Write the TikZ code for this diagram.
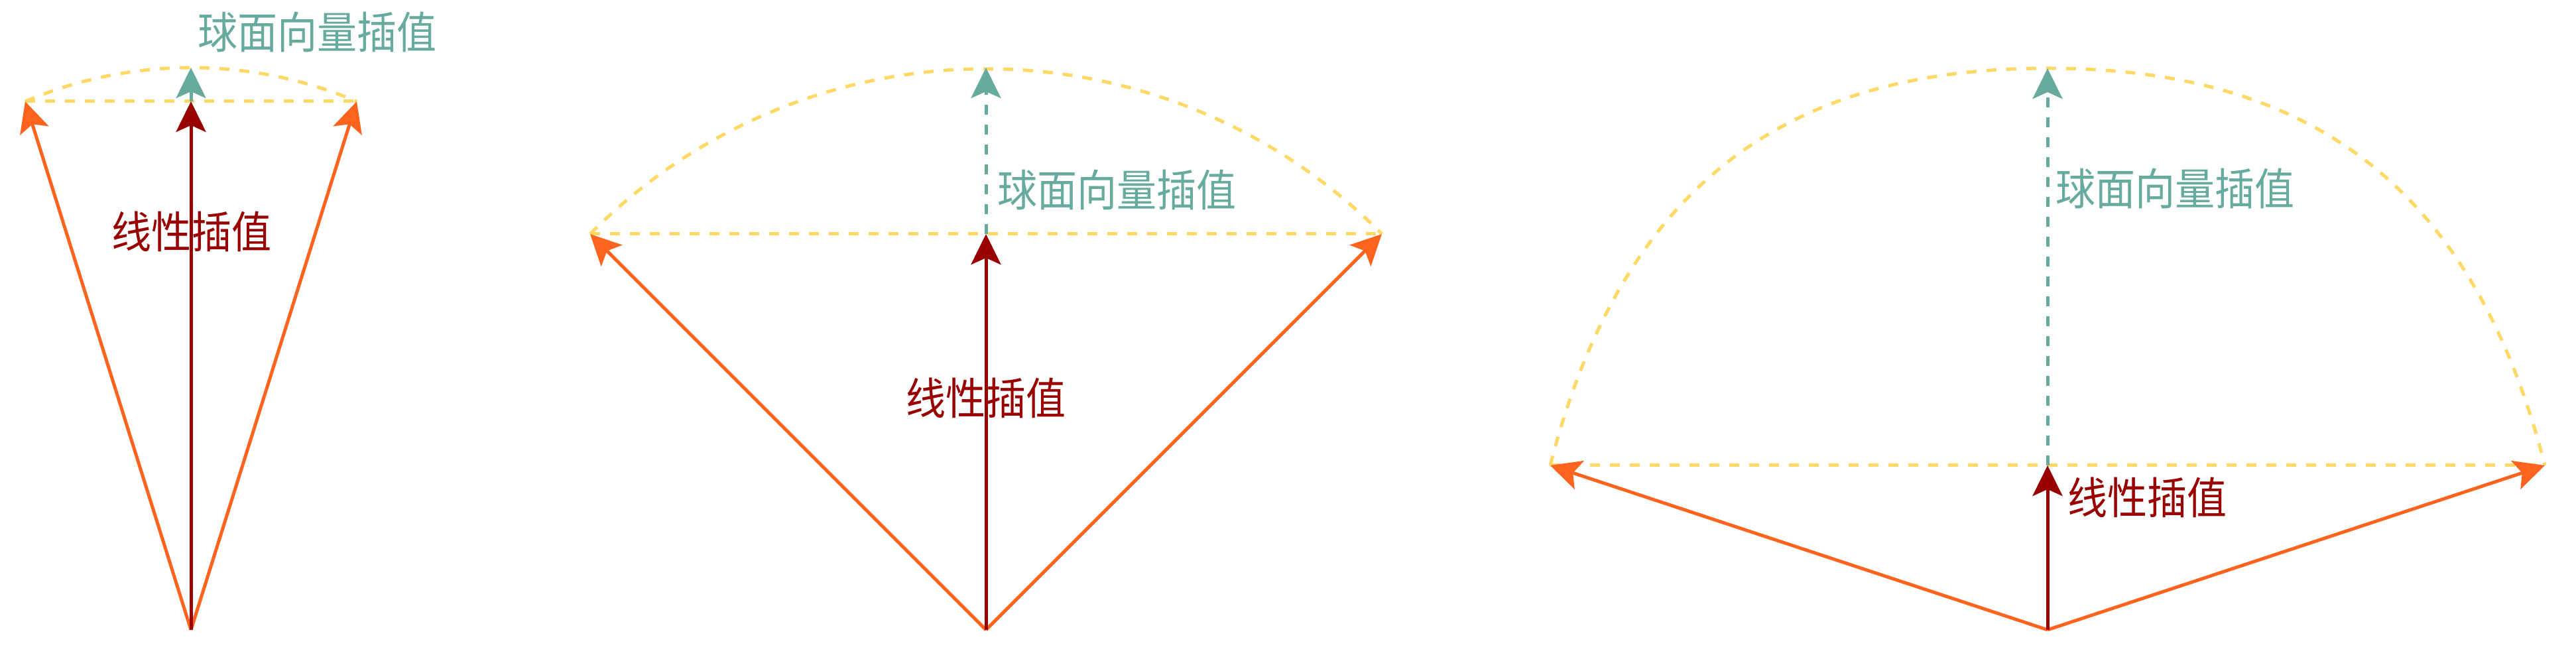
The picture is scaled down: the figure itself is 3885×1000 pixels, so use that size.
\documentclass[tikz,border=0pt]{standalone}
\usepackage{fontspec}
\newfontfamily\cjkfont[FakeStretch=0.91]{Noto Sans CJK SC}
\usetikzlibrary{arrows.meta}
\definecolor{vorange}{HTML}{FF641E}
\definecolor{vred}{HTML}{990000}
\definecolor{vteal}{HTML}{67AB9F}
\definecolor{vyellow}{HTML}{FFD966}
\tikzset{
  vec/.style={line width=5pt,-{Stealth[length=46pt,width=45pt,inset=10pt]}},
  ovec/.style={vec,draw=vorange},
  rvec/.style={vec,draw=vred},
  tvec/.style={vec,draw=vteal,dash pattern=on 15pt off 15pt},
  guide/.style={draw=vyellow,line width=5pt,dash pattern=on 15pt off 15pt},
  lbl/.style={font=\cjkfont\fontsize{66}{66}\selectfont,inner sep=0pt},
  tlbl/.style={lbl,text=vteal},
  rlbl/.style={lbl,text=vred},
}
\begin{document}
\begin{tikzpicture}[x=1pt,y=1pt]
\useasboundingbox (0,0) rectangle (3885,1000);
% ---------- panel 1 ----------
\coordinate (O1) at (288,50);
\coordinate (L1) at (38,847);
\coordinate (R1) at (538,847);
\coordinate (M1) at (288,847);
\coordinate (T1) at (288,898);
\draw[guide] (L1) -- (R1);
\draw[guide] (L1) arc[start angle=113.06,end angle=66.94,radius=638.3pt];
\draw[ovec] (O1) -- (L1);
\draw[ovec] (O1) -- (R1);
\draw[rvec] (O1) -- (M1);
\draw[vec,draw=vteal] (M1) -- (T1);
\node[tlbl,anchor=west] (s1) at (298,952) {球面向量插值};
\node[rlbl] (l1) at (289,651) {线性插值};
% ---------- panel 2 ----------
\coordinate (O2) at (1487,50);
\coordinate (L2) at (890,647);
\coordinate (R2) at (2084,647);
\coordinate (M2) at (1487,647);
\coordinate (T2) at (1487,898);
\draw[guide] (L2) -- (R2);
\draw[guide] (L2) arc[start angle=135.3,end angle=44.7,radius=840pt];
\draw[ovec] (O2) -- (L2);
\draw[ovec] (O2) -- (R2);
\draw[rvec] (O2) -- (M2);
\draw[tvec] (M2) -- (T2);
\node[tlbl,anchor=west] (s2) at (1504,714) {球面向量插值};
\node[rlbl] (l2) at (1487,400) {线性插值};
% ---------- panel 3 ----------
\coordinate (O3) at (3088,50);
\coordinate (L3) at (2338,298);
\coordinate (R3) at (3838,298);
\coordinate (M3) at (3088,298);
\coordinate (T3) at (3088,897);
\draw[guide] (L3) -- (R3);
\draw[guide] (L3) .. controls (2450,734) and (2708,897) .. (T3)
                  .. controls (3468,897) and (3726,734) .. (R3);
\draw[ovec] (O3) -- (L3);
\draw[ovec] (O3) -- (R3);
\draw[rvec] (O3) -- (M3);
\draw[tvec] (M3) -- (T3);
\node[tlbl,anchor=west] (s3) at (3100,716) {球面向量插值};
\node[rlbl,anchor=west] (l3) at (3118,250) {线性插值};
\end{tikzpicture}
\end{document}
